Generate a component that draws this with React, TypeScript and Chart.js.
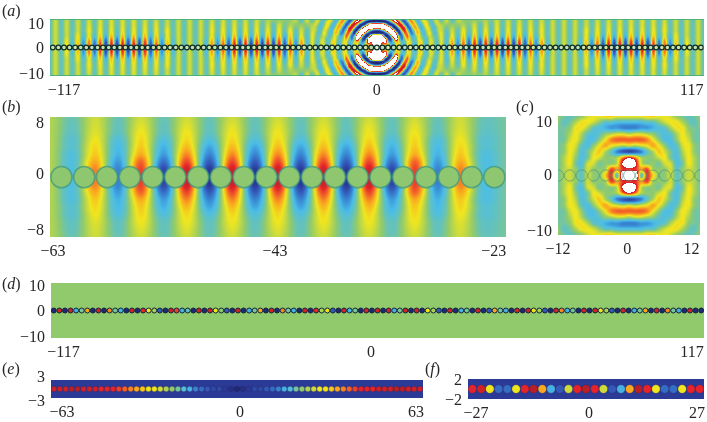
import React, { useEffect, useRef } from "react";
import { Chart, registerables } from "chart.js";

Chart.register(...registerables);

// ---------- tick labels ----------
const aXTicks = [-117, 0, 117];
const aYTicks = [-10, 0, 10];
const bXTicks = [-63, -43, -23];
const bYTicks = [-8, 0, 8];
const cXTicks = [-12, 0, 12];
const cYTicks = [-10, 0, 10];
const dXTicks = [-117, 0, 117];
const dYTicks = [-10, 0, 10];
const eXTicks = [-63, 0, 63];
const eYTicks = [-3, 3];
const fXTicks = [-27, 0, 27];
const fYTicks = [-2, 2];

// ---------- field tables (tenths of full scale; 20 = off-scale, shown white) ----------
// (a) fringes, columns |x| = 21, 23 ... 117, rows |y| = 0, 2 ... 10
const aFringeY0 = [-2,3,-3,6,-6,8,-9,10,-10,10,-10,10,-10,10,-10,10,-9,8,-6,6,-3,2,-2,2,-2,2,-3,5,-6,8,-9,10,-10,10,-10,10,-10,10,-10,9,-8,7,-6,5,-3,3,-2,2,-2];
const aFringeY2 = [-2,3,-3,5,-5,6,-7,8,-8,8,-8,8,-8,8,-8,8,-7,6,-5,5,-3,2,-2,2,-2,2,-3,4,-5,6,-7,8,-8,8,-8,8,-8,8,-8,7,-6,6,-5,4,-3,3,-2,2,-2];
const aFringeY4 = [-3,3,-3,3,-3,4,-4,4.5,-4,4.5,-4,4.5,-4,4.5,-4,4.5,-4,4,-3,3,-2,2,-2,2,-2,2,-2,3,-3,4,-4,4.5,-4,4.5,-4,4.5,-4,4.5,-4,4,-3,3,-3,3,-2,2,-2,2,-2];
const aFringeY6 = [-2,2,-2,2,-2,3,-2,3,-2.5,3,-2.5,3,-2.5,3,-2.5,3,-2.5,3,-2,3,-2,2,-2,2,-2,2,-2,3,-2,3,-2.5,3,-2.5,3,-2.5,3,-2.5,3,-2.5,3,-2,3,-2,2,-2,2,-2,2,-2];
const aFringeY8 = [0,1,0,0,0,1,-1,2,-2,2,-2,2.5,-2,2.5,-2,2.5,-2,2.5,-2,2.5,-2,2,-2,2,-2,2,-2,2,-2,2.5,-2,2.5,-2,2.5,-2,2.5,-2,2.5,-2,2.5,-2,2.5,-2,2,-2,2,-2,2,-2];
const aFringeY10 = [3,-3,3,-3,2,0,0,0,0,1,-1,2,-2,2,-2,2,-2,2,-2,2,-2,2,-2,2,-2,2,-2,2,-2,2,-2,2,-2,2.5,-2,2.5,-2,2.5,-2,2.5,-2,2,-2,2,-2,2,-2,2,-2];
// (a) rings, columns |x| = 0 ... 24, rows |y| = 0 ... 10
const aRingY0 = [20,10,-5,5,3,-3,-3,3,3,-3,-3,3,3,-3,-3,3,3,-2,-2,2,2,-2,-2,2,2];
const aRingY1 = [20,15,5,5,3,-3,-3,3,3,-3,-3,3,3,-3,-3,3,3,-2,-2,2,2,-2,-2,2,2];
const aRingY2 = [20,18,10,14,0,-6,-1,5,2,-3,-2,3,2,-2,-2,3,3,-2,-2,2,2,-2,-2,2,2];
const aRingY3 = [20,20,20,14,-7,-9,3,15,0,-6,0,5,1,-3,-1,3,1,-2,-2,2,1,-2,-1,2,1];
const aRingY4 = [20,20,12,-8,-11,-2,16,14,-2,-7,3,7,-1,-4,0,3,0,-3,0,2,0,-2,0,2,0];
const aRingY5 = [-10,-10,-11,-9,-2,15,20,6,-10,-3,7,5,-5,-5,3,4,-2,-3,1,3,-1,-3,1,3,0];
const aRingY6 = [-8,-7,-3,5,20,20,10,-9,-9,5,9,0,-7,-2,4,3,-3,-2,2,2,-2,-2,2,2,0];
const aRingY7 = [14,15,20,20,18,6,-10,-10,2,10,7,-6,-6,3,5,0,-4,0,3,1,-3,-2,2,2,0];
const aRingY8 = [20,20,18,8,-6,-11,-9,2,10,8,-4,-8,0,5,3,-3,-3,2,3,-1,-3,0,3,1,-1];
const aRingY9 = [-10,-11,-11,-12,-10,-3,6,11,8,-3,-8,-3,5,5,-1,-4,0,3,2,-2,-2,2,2,0,-1];
const aRingY10 = [-9,-9,-6,-2,6,11,12,8,-4,-9,-6,4,6,1,-3,-3,2,3,-1,-3,0,2,1,-1,-1];
// (b) columns x = -63, -61 ... -23, rows |y| = 0 ... 8
const bFieldY0 = [1,-3,6,-6,8,-9,10,-10,10,-10,10,-10,10,-10,10,-9,8,-6,6,-3,-1];
const bFieldY1 = [1,-3,6,-6,8,-9,10,-10,10,-10,10,-10,10,-10,10,-9,8,-6,6,-3,-1];
const bFieldY2 = [1,-3,5,-5,7,-7,8,-8,8,-8,8,-8,8,-8,8,-7,7,-5,5,-3,-1];
const bFieldY3 = [1,-3,4,-4,5,-5,6,-6,6,-6,6,-6,6,-6,6,-5,5,-4,4,-3,-1];
const bFieldY4 = [1,-2.5,3.5,-3.5,4,-4,4.5,-4.5,4.5,-4.5,4.5,-4.5,4.5,-4.5,4.5,-4,4,-3.5,3.5,-2.5,-1];
const bFieldY5 = [1,-2.5,3,-3,3.5,-3,3.5,-3,3.5,-3,3.5,-3,3.5,-3,3.5,-3,3.5,-3,3,-2.5,-1];
const bFieldY6 = [1,-2,2.5,-2,3,-2,3,-2,3,-2,3,-2,3,-2,3,-2,3,-2,2.5,-2,-1];
const bFieldY7 = [1,-1.8,2.2,-1.8,2.5,-1.8,2.5,-1.8,2.5,-1.8,2.5,-1.8,2.5,-1.8,2.5,-1.8,2.5,-1.8,2.2,-1.8,-1];
const bFieldY8 = [1,-1.5,2,-1.5,2,-1.5,2,-1.5,2,-1.5,2,-1.5,2,-1.5,2,-1.5,2,-1.5,2,-1.5,-1];
// (c) columns |x| = 0 ... 12, rows |y| = 0 ... 10
const cFieldY0 = [20,20,-2,8,4,0,0,2,-2,0,2,1,-1];
const cFieldY1 = [8,9,5,8,1,0,0,2,-2,0,2,1,-1];
const cFieldY2 = [20,12,2,0,0,-1,2,2,-3,-1,3,1,-1];
const cFieldY3 = [9,6,1,0,0,2,3,-1,-3,0,3,1,-1];
const cFieldY4 = [-9,-8,-6,-2,1,4,2,-1,-3,1,3,0,-1];
const cFieldY5 = [2,1,2,3,5,3,0,-3,-2,2,3,0,-1];
const cFieldY6 = [7,7,7,6,3,0,-3,-3,0,3,2,-1,-1];
const cFieldY7 = [1,2,2,1,0,-2,-3,-2,1,3,1,-1,-1];
const cFieldY8 = [-6,-6,-5,-5,-4,-3,-2,1,3,3,0,-1,-1];
const cFieldY9 = [-3,-3,-3,-2,-2,0,2,3,3,1,-1,-2,0];
const cFieldY10 = [3,3,3,4,4,3,3,2,0,-1,-2,-1,0];
// (d) (e) (f) nearly uniform backgrounds
const dBackground = [[0, 0], [0, 0]];
const eBackground = [[-10, -10], [-10, -10]];
const fBackground = [[-10, -10], [-10, -10]];

// ---------- particle levels (tenths of full scale) ----------
const dLevels = [-12,10,-12,10,-4,-1,5,-12,10,-12,6,-1,-4,-12,10,-12,9,3,1,-8,-12,10,8,-4,-2,-12,10,-12,10,3,0,-8,-12,10,-12,-4,-1,5,-12,10,-12,6,-1,-4,-12,10,-12,9,1,3,-8,-12,10,-4,-1,-12,10,-12,10,-12,10,-4,-1,10,-12,10,-12,3,1,-8,-12,10,-12,-4,-1,-12,10,-12,-8,5,-1,-4,-12,10,-12,10,3,1,-8,-12,10,6,-4,-1,-12,10,-12,10,3,1,-8,-12,10,-12,-4,-1,5,-12,10,-12,6,-1,-4,-12,10,-12,-12];
const eLevels = [10,10,10,11,11,10,10,10,9,9,9,8,7,6,5,4,3,3,2,1,0,-1,-3,-4,-6,-7,-8,-9,-9,-10,-11,-12,-11,-10,-9,-9,-8,-7,-6,-4,-3,-1,0,1,2,3,3,4,5,6,7,8,9,9,9,10,10,10,11,11,10,10,10];
const fLevels = [9,10,3,-7,-7,3,9,11,5,-4,-8,2,9,11,9,2,-8,-4,5,11,9,3,-7,-7,3,9,9];

// ---------- colour scale ----------
const SCALE: [number, number, number, number][] = [
  [-1.2, 30, 40, 115], [-1.0, 43, 58, 150], [-0.8, 51, 88, 184], [-0.55, 58, 142, 214],
  [-0.35, 75, 189, 232], [-0.15, 105, 195, 180], [0, 144, 202, 108], [0.15, 188, 215, 74],
  [0.3, 240, 230, 30], [0.5, 249, 169, 31], [0.7, 242, 96, 42], [0.9, 228, 36, 42], [1.2, 160, 31, 36],
];
function colourOf(v: number, whiteAt = 9): [number, number, number] {
  if (v > whiteAt) return [255, 255, 255];
  if (v <= SCALE[0][0]) return [SCALE[0][1], SCALE[0][2], SCALE[0][3]];
  for (let i = 1; i < SCALE.length; i++) {
    if (v <= SCALE[i][0]) {
      const a = SCALE[i - 1], b = SCALE[i], t = (v - a[0]) / (b[0] - a[0]);
      return [a[1] + (b[1] - a[1]) * t, a[2] + (b[2] - a[2]) * t, a[3] + (b[3] - a[3]) * t];
    }
  }
  const l = SCALE[SCALE.length - 1];
  return [l[1], l[2], l[3]];
}
const css = (tenths: number) => {
  const c = colourOf(tenths / 10);
  return `rgb(${c[0] | 0},${c[1] | 0},${c[2] | 0})`;
};

type Layer = { x0: number; dx: number; y0: number; dy: number; rows: number[][]; foldX: boolean; foldY: boolean };

const cr = (a: number, b: number, c: number, d: number, t: number) =>
  0.5 * (2 * b + (c - a) * t + (2 * a - 5 * b + 4 * c - d) * t * t + (3 * b - a - 3 * c + d) * t * t * t);

function sample(l: Layer, x: number, y: number) {
  const fx = ((l.foldX ? Math.abs(x) : x) - l.x0) / l.dx;
  const fy = ((l.foldY ? Math.abs(y) : y) - l.y0) / l.dy;
  const ny = l.rows.length, nx = l.rows[0].length;
  const ix = Math.min(Math.max(Math.floor(fx), 0), nx - 1), iy = Math.min(Math.max(Math.floor(fy), 0), ny - 1);
  const tx = fx - ix, ty = fy - iy;
  const gi = (i: number) => (i < 0 ? -i : Math.min(i, nx - 1));
  const gj = (j: number) => (j < 0 ? -j : Math.min(j, ny - 1));
  const line = (j: number) => {
    const r = l.rows[gj(j)];
    return cr(r[gi(ix - 1)], r[gi(ix)], r[gi(ix + 1)], r[gi(ix + 2)], tx);
  };
  return cr(line(iy - 1), line(iy), line(iy + 1), line(iy + 2), ty) / 10;
}

const FONT = "'Liberation Serif', 'Times New Roman', serif";

const lattice = (first: number, last: number) => {
  const out: number[] = [];
  for (let v = first; v <= last; v += 2) out.push(v);
  return out;
};

type Panel = {
  id: string; rect: [number, number, number, number];
  xRange: [number, number]; yRange: [number, number];
  xTicks: number[]; yTicks: number[]; xShift: number[]; yShift: number[];
  layers: Layer[]; edge?: string; whiteAt?: number; blend?: [number, number];
  px: number[]; levels?: number[]; radius: number; fill?: string; stroke: string; strokeW: number;
};

const aRings: Layer = { x0: 0, dx: 1, y0: 0, dy: 1, foldX: true, foldY: true,
  rows: [aRingY0, aRingY1, aRingY2, aRingY3, aRingY4, aRingY5, aRingY6, aRingY7, aRingY8, aRingY9, aRingY10] };
const aFringes: Layer = { x0: 21, dx: 2, y0: 0, dy: 2, foldX: true, foldY: true,
  rows: [aFringeY0, aFringeY2, aFringeY4, aFringeY6, aFringeY8, aFringeY10] };
const bLayer: Layer = { x0: -63, dx: 2, y0: 0, dy: 1, foldX: false, foldY: true,
  rows: [bFieldY0, bFieldY1, bFieldY2, bFieldY3, bFieldY4, bFieldY5, bFieldY6, bFieldY7, bFieldY8] };
const cLayer: Layer = { x0: 0, dx: 1, y0: 0, dy: 1, foldX: true, foldY: true,
  rows: [cFieldY0, cFieldY1, cFieldY2, cFieldY3, cFieldY4, cFieldY5, cFieldY6, cFieldY7, cFieldY8, cFieldY9, cFieldY10] };
const flat = (rows: number[][], xr: [number, number], yr: [number, number]): Layer => ({
  x0: xr[0], dx: xr[1] - xr[0], y0: yr[0], dy: yr[1] - yr[0], foldX: false, foldY: false, rows });

const PANELS: Panel[] = [
  { id: "a", rect: [50, 19, 704, 76], xRange: [-117, 117], yRange: [-10, 10], xTicks: aXTicks, yTicks: aYTicks,
    xShift: [14, 0, -12], yShift: [-1, 1.5, 6], layers: [aRings, aFringes], edge: "rgba(70,175,120,0.9)", whiteAt: 1.05, blend: [21, 24],
    px: lattice(-116, 116), radius: 2.4, fill: "rgba(215,235,190,0.75)", stroke: "#0f2e2a", strokeW: 1.3 },
  { id: "b", rect: [50, 117, 513, 237], xRange: [-63, -23], yRange: [-8, 8], xTicks: bXTicks, yTicks: bYTicks,
    xShift: [3, -3, -12], yShift: [-6, -2, 7], layers: [bLayer],
    px: lattice(-62, -24), radius: 10.6, fill: "#8ec76f", stroke: "rgba(60,150,130,0.7)", strokeW: 1.6 },
  { id: "c", rect: [558, 116, 702, 235], xRange: [-12, 12], yRange: [-10, 10], xTicks: cXTicks, yTicks: cYTicks,
    xShift: [0, -2, -9], yShift: [-3, 0, 7], layers: [cLayer], whiteAt: 1.05,
    px: lattice(-12, 12), radius: 5.6, stroke: "rgba(60,140,120,0.55)", strokeW: 1 },
  { id: "d", rect: [51, 283, 704, 338], xRange: [-117, 117], yRange: [-10, 10], xTicks: dXTicks, yTicks: dYTicks,
    xShift: [12.5, -6.5, -12], yShift: [0, 1.5, 4], layers: [flat(dBackground, [-117, 117], [-10, 10])],
    px: lattice(-116, 116), levels: dLevels, radius: 2.5, stroke: "#14263a", strokeW: 1 },
  { id: "e", rect: [51, 380, 423, 398], xRange: [-63, 63], yRange: [-3, 3], xTicks: eXTicks, yTicks: eYTicks,
    xShift: [11, 3, -7], yShift: [4, -2], layers: [flat(eBackground, [-63, 63], [-3, 3])],
    px: lattice(-62, 62), levels: eLevels, radius: 2.8, stroke: "rgba(40,30,80,0.35)", strokeW: 0.8 },
  { id: "f", rect: [468, 379, 704, 399], xRange: [-27, 27], yRange: [-2, 2], xTicks: fXTicks, yTicks: fYTicks,
    xShift: [8, 3, -7], yShift: [2, 2], layers: [flat(fBackground, [-27, 27], [-2, 2])],
    px: lattice(-26, 26), levels: fLevels, radius: 4.2, stroke: "rgba(40,30,80,0.3)", strokeW: 0.8 },
];

const LABELS: [string, number, number][] = [
  ["a", 2, 2], ["b", 2, 98], ["c", 516, 98], ["d", 2, 275], ["e", 2, 360], ["f", 425, 360],
];

const fmt = (v: number) => (v < 0 ? "\u2212" + Math.abs(v) : String(v));
const ML = 50, MR = 5, MT = 12, MB = 28;

function cellsOf(p: Panel) {
  const out: { x: number; y: number; v: number }[] = [];
  p.layers.forEach((l) =>
    l.rows.forEach((r, j) =>
      r.forEach((v, i) => out.push({ x: l.x0 + i * l.dx, y: l.y0 + j * l.dy, v }))));
  return out;
}

function fieldAt(p: Panel, x: number, y: number) {
  if (!p.blend) return sample(p.layers[0], x, y);
  const ax = Math.abs(x);
  if (ax <= p.blend[0]) return sample(p.layers[0], x, y);
  if (ax >= p.blend[1]) return sample(p.layers[1], x, y);
  const t = (ax - p.blend[0]) / (p.blend[1] - p.blend[0]);
  return sample(p.layers[0], x, y) * (1 - t) + sample(p.layers[1], x, y) * t;
}

function makeChart(canvas: HTMLCanvasElement, p: Panel) {
  const shifted = new WeakSet<object>();
  const plugin = {
    id: "fieldAndTicks",
    beforeDraw(chart: any) {
      const apply = (scale: any, shifts: number[], horizontal: boolean) => {
        const items = scale.getLabelItems(chart.chartArea);
        items.forEach((it: any, i: number) => {
          if (shifted.has(it)) return;
          shifted.add(it);
          it.options.translation[horizontal ? 0 : 1] += shifts[i] || 0;
        });
      };
      apply(chart.scales.x, p.xShift, true);
      apply(chart.scales.y, p.yShift, false);
    },
    beforeDatasetsDraw(chart: any) {
      const { left, top, right, bottom } = chart.chartArea;
      const w = Math.round(right - left), h = Math.round(bottom - top);
      const off = document.createElement("canvas");
      off.width = w; off.height = h;
      const octx = off.getContext("2d")!;
      const img = octx.createImageData(w, h);
      for (let py = 0; py < h; py++) {
        const y = chart.scales.y.getValueForPixel(top + py + 0.5);
        for (let px = 0; px < w; px++) {
          const x = chart.scales.x.getValueForPixel(left + px + 0.5);
          const c = colourOf(fieldAt(p, x, y), p.whiteAt);
          const k = (py * w + px) * 4;
          img.data[k] = c[0]; img.data[k + 1] = c[1]; img.data[k + 2] = c[2]; img.data[k + 3] = 255;
        }
      }
      octx.putImageData(img, 0, 0);
      const ctx = chart.ctx;
      ctx.drawImage(off, left, top);
      if (p.edge) {
        ctx.save();
        ctx.strokeStyle = p.edge;
        ctx.lineWidth = 1;
        ctx.beginPath();
        ctx.moveTo(left, top + 0.5); ctx.lineTo(right, top + 0.5);
        ctx.moveTo(left, bottom - 0.5); ctx.lineTo(right, bottom - 0.5);
        ctx.stroke();
        ctx.restore();
      }
    },
  };

  const axis = (range: [number, number], ticks: number[], horizontal: boolean, size: number): any => ({
    type: "linear",
    min: range[0],
    max: range[1],
    grid: { display: false, drawTicks: false },
    border: { display: false },
    afterBuildTicks: (s: any) => { s.ticks = ticks.map((value) => ({ value })); },
    afterFit: (s: any) => {
      if (horizontal) s.height = size; else s.width = size;
      s.paddingLeft = s.paddingRight = s.paddingTop = s.paddingBottom = 0;
    },
    ticks: {
      autoSkip: false, maxRotation: 0, minRotation: 0, padding: horizontal ? 5 : 6, color: "#262626",
      font: { family: FONT, size: 16 },
      callback: (v: any) => fmt(Number(v)),
    },
  });

  return new Chart(canvas, {
    type: "scatter",
    plugins: [plugin],
    data: {
      datasets: [
        {
          label: "particles",
          data: p.px.map((x) => ({ x, y: 0 })),
          pointRadius: p.radius,
          pointBorderWidth: p.strokeW,
          pointBorderColor: p.stroke,
          pointBackgroundColor: p.levels ? p.levels.map(css) : p.fill || "rgba(0,0,0,0)",
          order: 1,
        } as any,
        {
          label: "field",
          data: cellsOf(p),
          pointRadius: 0,
          order: 2,
        } as any,
      ],
    },
    options: {
      responsive: false,
      animation: false,
      events: [],
      layout: { padding: { left: 0, right: MR, top: MT, bottom: 0 } },
      plugins: { legend: { display: false }, tooltip: { enabled: false }, title: { display: false } },
      scales: { x: axis(p.xRange, p.xTicks, true, MB), y: axis(p.yRange, p.yTicks, false, ML) },
    },
  });
}

function PanelChart({ p }: { p: Panel }) {
  const ref = useRef<HTMLCanvasElement>(null);
  useEffect(() => {
    const chart = makeChart(ref.current!, p);
    return () => chart.destroy();
  }, [p]);
  const [l, t, r, b] = p.rect;
  return (
    <canvas
      ref={ref}
      width={r - l + ML + MR}
      height={b - t + MT + MB}
      style={{ position: "absolute", left: l - ML, top: t - MT, width: r - l + ML + MR, height: b - t + MT + MB, display: "block" }}
    />
  );
}

export default function App() {
  return (
    <div style={{ position: "absolute", left: 0, top: 0, width: 707, height: 422, overflow: "hidden", background: "#fff" }}>
      {PANELS.map((p) => <PanelChart key={p.id} p={p} />)}
      {LABELS.map(([letter, x, y]) => (
        <div key={letter} style={{ position: "absolute", left: x, top: y, fontFamily: FONT, fontSize: 16, lineHeight: "18px", color: "#262626", whiteSpace: "nowrap" }}>
          (<i>{letter}</i>)
        </div>
      ))}
    </div>
  );
}
